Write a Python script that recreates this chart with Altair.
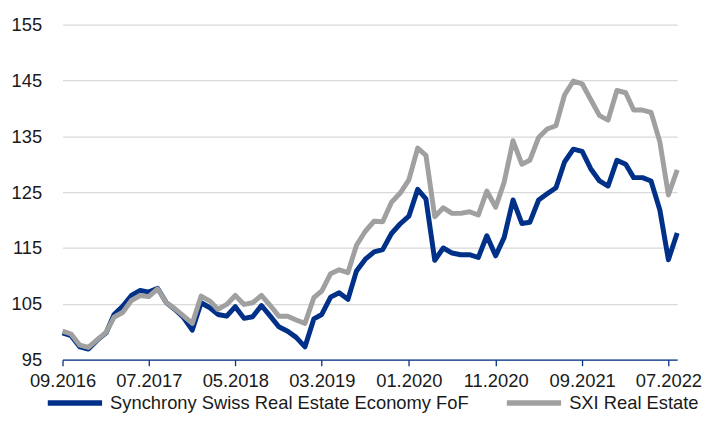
import altair as alt
import pandas as pd

# Monthly observations 09.2016 .. 08.2022
months = pd.date_range("2016-09-01", periods=72, freq="MS")

fund = [
    99.8, 99.3, 97.3, 96.9, 98.5, 99.8, 103.1, 104.6, 106.5, 107.4,
    107.1, 107.8, 105.2, 104.0, 102.5, 100.3, 105.2, 104.3, 103.1, 102.8,
    104.5, 102.4, 102.7, 104.7, 102.8, 100.9, 100.1, 99.0, 97.3, 102.3,
    103.1, 106.2, 107.0, 105.8, 110.9, 113.0, 114.3, 114.7, 117.6, 119.3,
    120.7, 125.5, 123.8, 112.8, 115.0, 114.1, 113.8, 113.8, 113.3, 117.2,
    113.6, 116.9, 123.6, 119.4, 119.6, 123.6, 124.7, 125.8, 130.4, 132.7,
    132.3, 129.2, 127.0, 126.1, 130.7, 130.0, 127.6, 127.6, 127.0, 121.8,
    112.9, 117.7,
]
sxi = [
    100.1, 99.6, 97.6, 97.2, 98.6, 99.9, 102.6, 103.5, 105.6, 106.5,
    106.3, 107.7, 105.2, 104.1, 102.8, 101.5, 106.4, 105.5, 104.0, 104.9,
    106.5, 104.9, 105.2, 106.5, 104.7, 102.8, 102.8, 102.1, 101.5, 106.1,
    107.3, 110.4, 111.1, 110.6, 115.5, 118.0, 119.8, 119.7, 123.2, 124.8,
    127.2, 132.9, 131.6, 120.6, 122.2, 121.2, 121.2, 121.5, 120.9, 125.2,
    122.3, 126.8, 134.2, 130.0, 130.7, 134.8, 136.3, 136.9, 142.4, 144.9,
    144.4, 141.6, 138.7, 137.9, 143.2, 142.8, 139.7, 139.7, 139.3, 134.0,
    124.5, 129.0,
]
series_names = ["Synchrony Swiss Real Estate Economy FoF", "SXI Real Estate"]
series_colors = ["#003087", "#A0A0A0"]
x_tick_months = [(2016, 9), (2017, 7), (2018, 5), (2019, 3), (2020, 1),
                 (2020, 11), (2021, 9), (2022, 7)]
y_ticks = [95, 105, 115, 125, 135, 145, 155]

df = pd.DataFrame({
    "date": list(months) * 2,
    "value": fund + sxi,
    "series": [series_names[0]] * len(fund) + [series_names[1]] * len(sxi),
})

FONT = "Liberation Sans"
FS = 18.5
TXT = "#1a1a1a"

x_enc = alt.X(
    "date:T",
    scale=alt.Scale(domain=[alt.DateTime(year=2016, month=9, date=1),
                            alt.DateTime(year=2022, month=8, date=1)], nice=False),
    axis=alt.Axis(
        values=[alt.DateTime(year=y, month=m, date=1) for y, m in x_tick_months],
        format="%m.%Y", title=None, grid=False,
        domainColor="#003087", domainWidth=1.3,
        tickColor="#003087", tickSize=6, tickWidth=1.3,
        labelPadding=6, labelFontSize=FS, labelFont=FONT, labelColor=TXT,
        labelFlush=False, labelOverlap=False, labelBound=False,
    ),
)
y_enc = alt.Y(
    "value:Q",
    scale=alt.Scale(domain=[95, 155], nice=False, zero=False),
    axis=alt.Axis(
        values=y_ticks, title=None, domain=False, ticks=False,
        labelPadding=21, labelFontSize=FS, labelFont=FONT, labelColor=TXT,
        gridColor="#d9d9d9", gridWidth=1.3,
    ),
)
color_enc = alt.Color(
    "series:N",
    scale=alt.Scale(domain=series_names, range=series_colors),
    legend=alt.Legend(
        title=None, orient="none", legendX=-18, legendY=351,
        direction="horizontal", symbolType="stroke", symbolStrokeWidth=5.5,
        symbolSize=3000, labelFontSize=FS, labelFont=FONT, labelColor=TXT,
        labelOffset=5, columnPadding=27, labelLimit=0, padding=0,
    ),
)

base = alt.Chart(df).mark_line(strokeWidth=5, strokeJoin="round").encode(
    x=x_enc, y=y_enc, color=color_enc
)
fund_line = base.transform_filter(alt.datum.series == series_names[0])
sxi_line = base.transform_filter(alt.datum.series == series_names[1])

chart = alt.layer(fund_line, sxi_line).properties(
    width=620, height=338,
    autosize=alt.AutoSizeParams(type="none"),
    padding={"left": 55, "top": 15, "right": 25, "bottom": 52},
).configure_view(stroke=None)

chart.save("out.html", embed_options={"renderer": "svg", "actions": False})
